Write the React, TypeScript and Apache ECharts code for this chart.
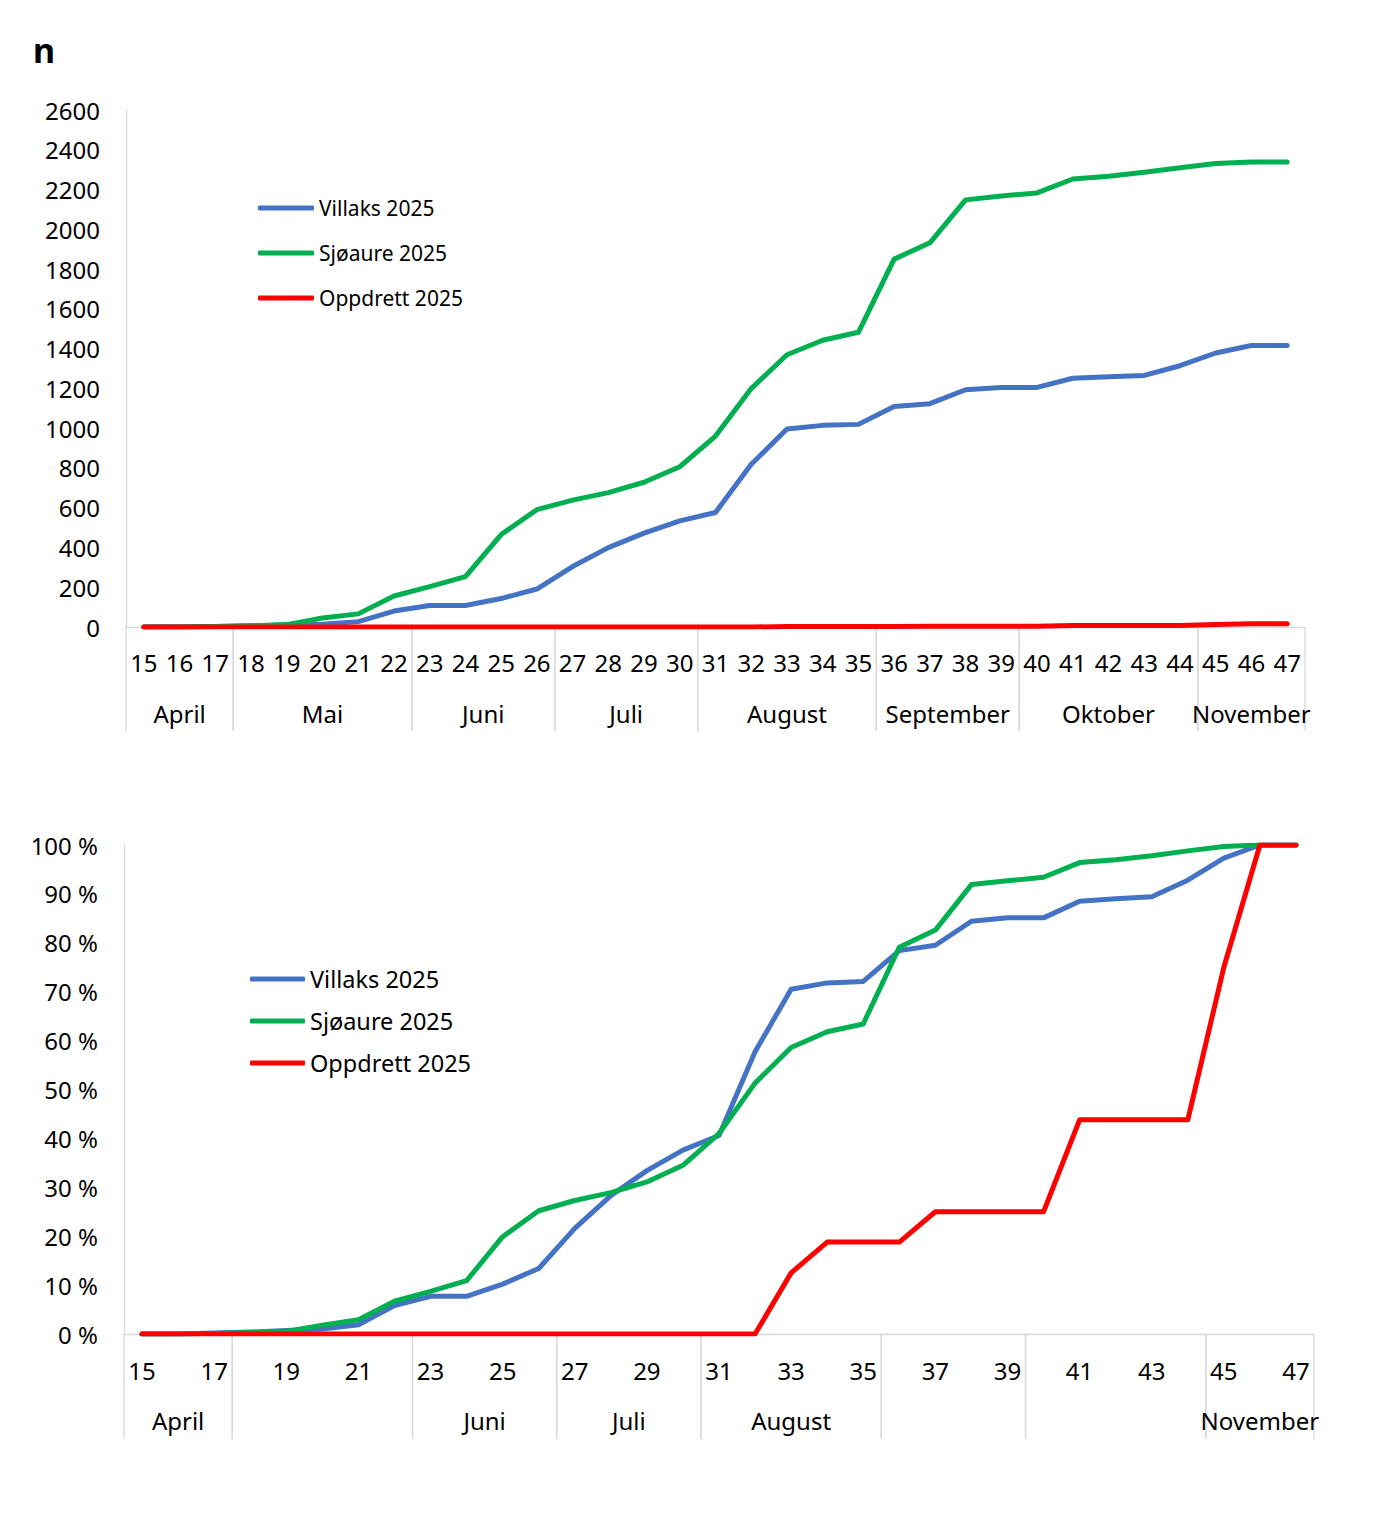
import React, { useEffect, useRef } from "react";
import * as echarts from "echarts";

// Categories: week numbers
const weeks = [
  "15", "16", "17", "18", "19", "20", "21", "22", "23", "24", "25", "26", "27", "28", "29", "30", "31",
  "32", "33", "34", "35", "36", "37", "38", "39", "40", "41", "42", "43", "44", "45", "46", "47",
];

// Top chart: cumulative counts (n)
const villaksN = [
  0, 0, 3, 6, 10, 14, 27, 80, 108, 108, 143, 191, 304, 399, 472, 534, 576,
  818, 996, 1014, 1019, 1109, 1123, 1193, 1205, 1205, 1251, 1258, 1265, 1314, 1378, 1416, 1416,
];
const sjoaureN = [
  0, 1, 3, 6, 12, 45, 66, 156, 203, 253, 465, 590, 638, 676, 728, 806, 960,
  1199, 1369, 1442, 1482, 1850, 1932, 2148, 2168, 2183, 2253, 2267, 2287, 2310, 2331, 2339, 2339,
];
const oppdrettN = [
  0, 0, 0, 0, 0, 0, 0, 0, 0, 0, 0, 0, 0, 0, 0, 0, 0,
  0, 2, 3, 3, 3, 4, 4, 4, 4, 7, 7, 7, 7, 12, 16, 16,
];

// Bottom chart: cumulative share (%)
const villaksPct = [
  0, 0, 0.2, 0.4, 0.7, 1.0, 1.9, 5.8, 7.7, 7.7, 10.2, 13.4, 21.6, 28.3, 33.4, 37.6, 40.6,
  57.7, 70.5, 71.8, 72.1, 78.4, 79.5, 84.4, 85.1, 85.1, 88.5, 89.0, 89.4, 92.8, 97.3, 100, 100,
];
const sjoaurePct = [
  0, 0, 0.1, 0.3, 0.5, 1.8, 2.9, 6.7, 8.7, 10.9, 19.9, 25.2, 27.3, 28.9, 31.1, 34.5, 41.0,
  51.3, 58.6, 61.8, 63.4, 79.1, 82.6, 91.9, 92.7, 93.4, 96.4, 97.0, 97.8, 98.8, 99.7, 100, 100,
];
const oppdrettPct = [
  0, 0, 0, 0, 0, 0, 0, 0, 0, 0, 0, 0, 0, 0, 0, 0, 0,
  0, 12.5, 18.8, 18.8, 18.8, 25, 25, 25, 25, 43.8, 43.8, 43.8, 43.8, 75, 100, 100,
];

// Month groups along the week axis
const monthNames = ["April", "Mai", "Juni", "Juli", "August", "September", "Oktober", "November"];
const monthFirstWeek = ["15", "18", "23", "27", "31", "36", "40", "45"];
const monthLastWeek = ["17", "22", "26", "30", "35", "39", "44", "47"];
const bottomMonthLabels = ["April", "", "Juni", "Juli", "August", "", "", "November"];

const seriesNames = ["Villaks 2025", "Sjøaure 2025", "Oppdrett 2025"];
const seriesColors = ["#4472C4", "#00B050", "#FF0000"];

const FONT = "Noto Sans";
const AXIS_GRAY = "#D9D9D9";

export default function App() {
  const ref = useRef<HTMLDivElement>(null);

  useEffect(() => {
    if (!ref.current) return;
    const chart = echarts.init(ref.current, undefined, { renderer: "svg" });

    const monthData = monthNames.map((_, i) => [
      weeks.indexOf(monthFirstWeek[i]),
      weeks.indexOf(monthLastWeek[i]),
      0,
    ]);

    const makeMonthRender =
      (labels: string[], tickLen: number, labelOffset: number) => (params: any, api: any) => {
        const a = api.coord([api.value(0), 0]);
        const b = api.coord([api.value(1), 0]);
        const half = api.size([1, 0])[0] / 2;
        const l = a[0] - half;
        const r = b[0] + half;
        const y = a[1];
        const name = labels[params.dataIndex];
        return {
          type: "group",
          children: [
            {
              type: "line",
              shape: { x1: l, y1: y, x2: l, y2: y + tickLen },
              style: { stroke: AXIS_GRAY, lineWidth: 1.3 },
            },
            {
              type: "line",
              shape: { x1: r, y1: y, x2: r, y2: y + tickLen },
              style: { stroke: AXIS_GRAY, lineWidth: 1.3 },
            },
            {
              type: "text",
              style: {
                text: name,
                x: (l + r) / 2,
                y: y + labelOffset,
                align: "center",
                verticalAlign: "middle",
                fontSize: 24,
                fontFamily: FONT,
                fill: "#000",
              },
            },
          ],
        };
      };

    const lineSeries = (data: number[], idx: number, axis: number) => ({
      name: seriesNames[idx],
      type: "line",
      xAxisIndex: axis,
      yAxisIndex: axis,
      data,
      symbol: "none",
      showSymbol: false,
      color: seriesColors[idx],
      itemStyle: { color: seriesColors[idx] },
      lineStyle: { width: 5, color: seriesColors[idx], cap: "round", join: "round" },
    });

    const xAxisBase = {
      type: "category",
      data: weeks,
      boundaryGap: true,
      axisLine: { show: true, lineStyle: { color: AXIS_GRAY, width: 1.3 } },
      axisTick: { show: false },
      splitLine: { show: false },
    };

    const yAxisBase = {
      type: "value",
      min: 0,
      axisLine: { show: true, lineStyle: { color: AXIS_GRAY, width: 1.3 } },
      axisTick: { show: false },
      splitLine: { show: false },
    };

    const option: any = {
      animation: false,
      backgroundColor: "#ffffff",
      title: {
        text: "n",
        left: 33,
        top: 33,
        padding: 0,
        textStyle: { fontSize: 34, fontWeight: "bold", fontFamily: FONT, color: "#000" },
      },
      legend: [
        {
          data: seriesNames,
          orient: "vertical",
          left: 258,
          top: 196,
          padding: 0,
          icon: "roundRect",
          itemWidth: 56,
          itemHeight: 5,
          itemGap: 21,
          textStyle: { fontSize: 21, fontFamily: FONT, color: "#000", lineHeight: 24 },
        },
        {
          data: seriesNames,
          orient: "vertical",
          left: 250,
          top: 966,
          padding: 0,
          icon: "roundRect",
          itemWidth: 55,
          itemHeight: 5,
          itemGap: 16,
          textStyle: { fontSize: 23.5, fontFamily: FONT, color: "#000", lineHeight: 26 },
        },
      ],
      grid: [
        { left: 126, top: 110, width: 1179, height: 517, containLabel: false },
        { left: 124, top: 845, width: 1190, height: 489, containLabel: false },
      ],
      xAxis: [
        {
          ...xAxisBase,
          gridIndex: 0,
          axisLabel: { interval: 0, fontSize: 24, fontFamily: FONT, color: "#000", margin: 23, lineHeight: 24 },
        },
        {
          ...xAxisBase,
          gridIndex: 1,
          axisLabel: { interval: 1, fontSize: 24, fontFamily: FONT, color: "#000", margin: 24, lineHeight: 24 },
        },
      ],
      yAxis: [
        {
          ...yAxisBase,
          gridIndex: 0,
          max: 2600,
          interval: 200,
          axisLabel: {
            fontSize: 24,
            fontFamily: FONT,
            color: "#000",
            margin: 26,
            formatter: (v: number) => String(v),
          },
        },
        {
          ...yAxisBase,
          gridIndex: 1,
          max: 100,
          interval: 10,
          axisLabel: {
            fontSize: 24,
            fontFamily: FONT,
            color: "#000",
            margin: 26,
            formatter: (v: number) => v + " %",
          },
        },
      ],
      series: [
        {
          name: "months-top",
          type: "custom",
          xAxisIndex: 0,
          yAxisIndex: 0,
          silent: true,
          clip: false,
          encode: { x: [0, 1], y: 2 },
          data: monthData,
          renderItem: makeMonthRender(monthNames, 104, 86),
        },
        {
          name: "months-bottom",
          type: "custom",
          xAxisIndex: 1,
          yAxisIndex: 1,
          silent: true,
          clip: false,
          encode: { x: [0, 1], y: 2 },
          data: monthData,
          renderItem: makeMonthRender(bottomMonthLabels, 105, 86),
        },
        lineSeries(villaksN, 0, 0),
        lineSeries(sjoaureN, 1, 0),
        lineSeries(oppdrettN, 2, 0),
        lineSeries(villaksPct, 0, 1),
        lineSeries(sjoaurePct, 1, 1),
        lineSeries(oppdrettPct, 2, 1),
      ],
    };

    chart.setOption(option);
    return () => {
      chart.dispose();
    };
  }, []);

  return (
    <div
      ref={ref}
      style={{ position: "absolute", left: 0, top: 0, width: 1387, height: 1522, background: "#fff" }}
    />
  );
}
